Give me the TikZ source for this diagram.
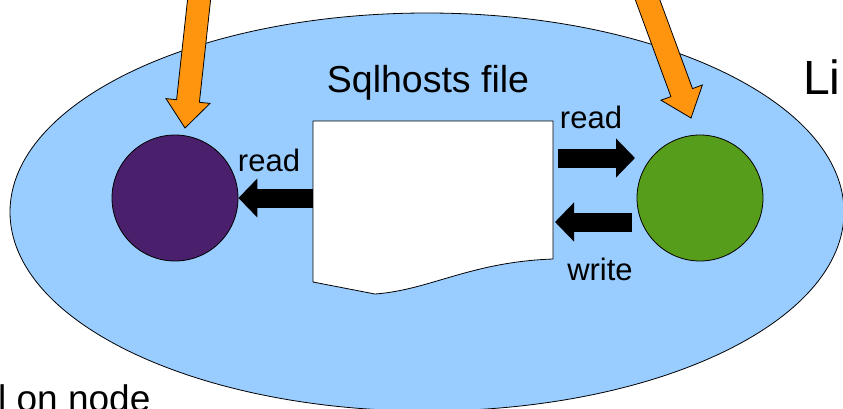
\documentclass[tikz,border=0pt]{standalone}
\usepackage{fontspec}
\setmainfont{Liberation Sans}
\usetikzlibrary{arrows.meta,shapes.geometric}
\definecolor{skyfill}{HTML}{99CCFF}
\definecolor{plum}{HTML}{4A1F6B}
\definecolor{leaf}{HTML}{579D1C}
\definecolor{amber}{HTML}{FF950E}
\tikzset{
  outline/.style={draw=black, line width=0.8pt},
  station/.style={circle, outline, minimum size=126pt, inner sep=0pt},
  blockarrow/.style={line width=19pt, -{Triangle[length=19pt 0 0,width=38pt 0 0]}},
  feedarrow/.style={outline, fill=amber, line join=miter},
  lbl/.style={anchor=base, inner sep=0pt, font=\fontsize{31}{34}\selectfont},
}
\begin{document}
\begin{tikzpicture}[x=1pt,y=-1pt]
\useasboundingbox (0,0) rectangle (843,408);
\clip (0,0) rectangle (843,408);

% host machine
\node[ellipse, outline, fill=skyfill, minimum width=834pt, minimum height=398pt, inner sep=0pt] (host) at (427,212) {};
\node[anchor=base west, inner sep=0pt, font=\fontsize{48}{52}\selectfont] (hostname) at (803,94) {Li};
\node[anchor=base west, inner sep=0pt, font=\fontsize{37}{40}\selectfont] (nodename) at (-2,411) {l on node};

% the sqlhosts document
\draw[outline, fill=white, line join=round]
  (313,121) -- (553,121) -- (553,259)
  .. controls (470,262) and (430,290) .. (375,294)
  -- (313,282) -- cycle;
\coordinate (docW) at (313,198);
\node[anchor=base, inner sep=0pt, font=\fontsize{37.5}{40}\selectfont] (doctitle) at (428,92) {Sqlhosts file};

% the two servers
\node[station, fill=plum] (srvA) at (175,198) {};
\node[station, fill=leaf] (srvB) at (700,198) {};

% read / write flows
\draw[blockarrow] (docW) -- (srvA.east);
\node[lbl] (readA) at (269,171) {read};

\coordinate (rdStart) at (558,158);
\coordinate (rdEnd) at (635,158);
\draw[blockarrow] (rdStart) -- (rdEnd);
\node[lbl] (readB) at (591,128) {read};

\coordinate (wrStart) at (632,222);
\coordinate (wrEnd) at (555,222);
\draw[blockarrow] (wrStart) -- (wrEnd);
\node[lbl] (writeB) at (600,280) {write};

% incoming arrows from above
\draw[feedarrow] (188.2,-6.25) -- (211,-3.75) -- (199.4,102.3) -- (210,103.4)
  -- (185,128) -- (166,98.6) -- (176.6,99.7) -- cycle;
\draw[feedarrow] (635,-1) -- (656.6,-9) -- (692.5,88.6) -- (702.4,85.0)
  -- (691,118) -- (661.0,100.2) -- (670.9,96.6) -- cycle;
\end{tikzpicture}
\end{document}
